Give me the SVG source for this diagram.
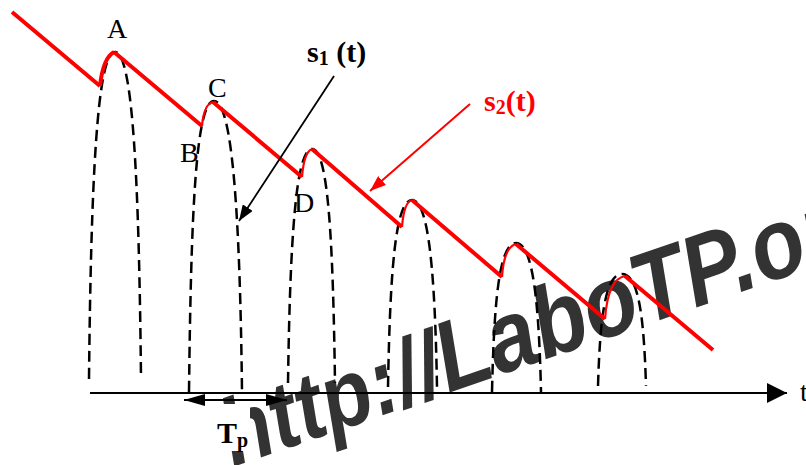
<svg xmlns="http://www.w3.org/2000/svg" width="806" height="465" viewBox="0 0 806 465">
<style>
.arch{fill:none;stroke:#000;stroke-width:2.5;stroke-dasharray:11 6}
.red{fill:none;stroke:#f00;stroke-width:4;stroke-linejoin:miter}
.redarc{fill:none;stroke:#f00;stroke-width:2.2}
.lbl{font-family:"Liberation Serif","Times New Roman",serif;font-size:28px;fill:#000}
.bold{font-family:"Liberation Serif","Times New Roman",serif;font-weight:bold;font-size:30px}
.wm{font-family:"Liberation Sans",Arial,sans-serif;font-weight:bold;font-style:italic;font-size:82px;fill:#333}
</style>
<defs>
<marker id="hB" markerWidth="16" markerHeight="12" refX="16" refY="6" orient="auto" markerUnits="userSpaceOnUse"><path d="M0,0 L16,6 L0,12 z" fill="#000"/></marker>
<marker id="hR" markerWidth="16" markerHeight="12" refX="16" refY="6" orient="auto" markerUnits="userSpaceOnUse"><path d="M0,0 L16,6 L0,12 z" fill="#f00"/></marker>
<marker id="hAx" markerWidth="20" markerHeight="20" refX="20" refY="10" orient="auto" markerUnits="userSpaceOnUse"><path d="M0,0 L20,10 L0,20 z" fill="#000"/></marker>
<marker id="hTp" markerWidth="21" markerHeight="12" refX="21" refY="6" orient="auto-start-reverse" markerUnits="userSpaceOnUse"><path d="M0,0 L21,6 L0,12 z" fill="#000"/></marker>
</defs>
<rect width="806" height="465" fill="#fff"/>
<g id="watermark" transform="translate(233,467) rotate(-19) scale(1,1.15)">
<text class="wm" x="0" y="0">http://<tspan font-size="87">LaboTP.org</tspan></text>
</g>
<rect x="209" y="404" width="41" height="47" fill="#fff"/>
<g id="pulses">
<path id="p1" class="arch" d="M89,379 C91,183 97,52 115,52 C133,52 139,183 141,379"/>
<path id="p2" class="arch" d="M189,392 C191,217 195.5,101 214,101 C232.5,101 240,217 242,392"/>
<path id="p3" class="arch" d="M288,383 C290,243 295.5,149 312,149 C328.5,149 333,243 335,383"/>
<path id="p4" class="arch" d="M388,387 C390,275 395,200 412,200 C429,200 435,275 437,387"/>
<path id="p5" class="arch" d="M492,392 C494,303 499,243 516,243 C533,243 539,303 541,392"/>
<path id="p6" class="arch" d="M598,386 C600,319 605,274 622,274 C639,274 644,319 646,386"/>
</g>
<g id="s2curve">
<path class="red" d="M12,12 L100,86 M114,52 L202,126 M213,102 L302,177 M312,149 L402,227 M412,200 L502,277 M516,244 L605,319 M625,276 L713,350"/>
<path class="red" d="M100,86 Q103,58 114,52"/>
<path class="redarc" d="M202,126 Q204,104 213,102 M302,177 Q304,152 312,149 M402,227 Q404,202 412,200 M502,277 Q504,247 516,244 M605,319 Q608,279 625,276"/>
</g>
<g id="connectors">
<line id="axis" x1="90" y1="393" x2="787" y2="393" stroke="#000" stroke-width="2" marker-end="url(#hAx)"/>
<line id="tp-arrow" x1="184" y1="400" x2="287" y2="400" stroke="#000" stroke-width="2" marker-start="url(#hTp)" marker-end="url(#hTp)"/>
<line id="s1-arrow" x1="334" y1="76" x2="239" y2="221" stroke="#000" stroke-width="1.8" marker-end="url(#hB)"/>
<line id="s2-arrow" x1="470" y1="104" x2="370" y2="191" stroke="#f00" stroke-width="2" marker-end="url(#hR)"/>
</g>
<g id="labels">
<text class="lbl" x="107" y="38">A</text>
<text class="lbl" x="180" y="162">B</text>
<text class="lbl" x="208" y="97">C</text>
<text class="lbl" x="294" y="212">D</text>
<text class="lbl" x="800" y="401" font-size="22">t</text>
<text class="bold" x="307" y="62" fill="#000">s<tspan font-size="20" dy="3">1</tspan><tspan dy="-3"> (t)</tspan></text>
<text class="bold" x="484" y="111" fill="#f00">s<tspan font-size="20" dy="3">2</tspan><tspan dy="-3">(t)</tspan></text>
<text class="bold" x="217" y="443" font-size="28" fill="#000">T<tspan font-size="20" dy="4">p</tspan></text>
</g>
</svg>
